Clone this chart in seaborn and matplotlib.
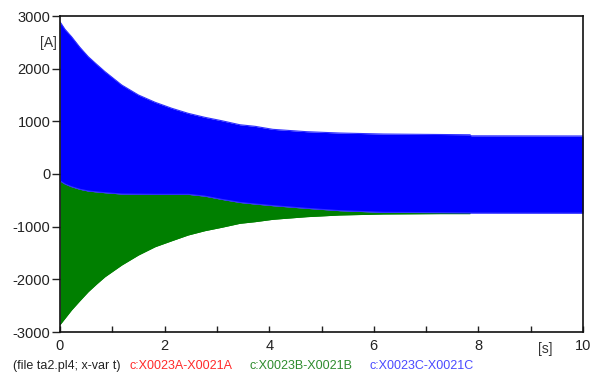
import matplotlib
matplotlib.use("Agg")
import matplotlib.pyplot as plt
import seaborn as sns
import pandas as pd

# Envelope (peak) values of the phase currents, in A, against time in s
blue_t = [0, 0.095, 0.22, 0.38, 0.54, 0.70, 0.86, 1.18, 1.50, 1.82, 2.14, 2.45,
          2.77, 3.09, 3.44, 3.73, 4.07, 4.72, 5.35, 6.18, 7.27, 7.84, 7.86, 10]
blue_hi = [2890, 2747, 2607, 2405, 2227, 2083, 1943, 1690, 1500, 1361, 1247, 1152,
           1076, 1012, 935, 905, 848, 803, 778, 759, 750, 745, 725, 722]
blue_lo = [-130, -190, -241, -290, -323, -340, -355, -380, -383, -386, -386, -386,
           -420, -481, -540, -570, -601, -652, -696, -728, -734, -738, -740, -742]

green_t = [0, 0.095, 0.22, 0.38, 0.54, 0.70, 0.86, 1.18, 1.50, 1.82, 2.14, 2.45,
           2.77, 3.09, 3.44, 3.73, 4.07, 4.72, 5.35, 6.18, 7.27, 7.84]
green_hi = [-130, -190, -241, -290, -323, -340, -355, -380, -383, -386, -386, -386,
            -420, -481, -540, -570, -601, -652, -696, -728, -734, -738]
green_lo = [-2860, -2740, -2582, -2405, -2234, -2088, -1950, -1728, -1538, -1380,
            -1266, -1158, -1076, -1012, -936, -905, -860, -810, -778, -759, -752, -752]

x_ticks = [0, 2, 4, 6, 8, 10]
y_ticks = [-3000, -2000, -1000, 0, 1000, 2000, 3000]
legend_labels = ["c:X0023A-X0021A", "c:X0023B-X0021B", "c:X0023C-X0021C"]
legend_colors = ["#ff2a2a", "#2e8b2e", "#4a4aff"]

sns.set_style("white")
plt.rcParams["font.family"] = ["Liberation Sans", "DejaVu Sans"]
plt.rcParams["axes.unicode_minus"] = False

fig = plt.figure(figsize=(6.02, 3.78), dpi=100)
ax = fig.add_axes([60 / 602, 1 - 332 / 378, 523 / 602, 316 / 378])

green = pd.DataFrame({"t": green_t, "hi": green_hi, "lo": green_lo})
blue = pd.DataFrame({"t": blue_t, "hi": blue_hi, "lo": blue_lo})

# Phase B (green) underneath, phase C (blue) on top
ax.fill_between(green["t"], green["lo"], green["hi"], color="#007f00", lw=0, zorder=1)
sns.lineplot(data=green, x="t", y="lo", color="#008000", lw=0.8, ax=ax, zorder=1)
ax.fill_between(blue["t"], blue["lo"], blue["hi"], color="#0000ff", lw=0, zorder=2)
sns.lineplot(data=blue, x="t", y="hi", color="#3030ff", lw=0.8, ax=ax, zorder=2)
sns.lineplot(data=blue, x="t", y="lo", color="#3030ff", lw=0.8, ax=ax, zorder=2)

ax.set_xlim(0, 10)
ax.set_ylim(-3000, 3000)
ax.set_xticks(x_ticks)
ax.set_xticks([1, 3, 5, 7, 9], minor=True)
ax.set_yticks(y_ticks)
ax.set_xlabel("")
ax.set_ylabel("")

ax.tick_params(axis="x", which="both", direction="in", length=4, width=1,
               colors="#222222", labelsize=10.5, pad=5, bottom=True)
ax.tick_params(axis="y", direction="out", length=6, width=1,
               colors="#222222", labelsize=10.5, pad=1, left=True)

for side in ["left", "right", "top", "bottom"]:
    ax.spines[side].set_visible(True)
    ax.spines[side].set_color("#111111")
    ax.spines[side].set_linewidth(1.2)
    ax.spines[side].set_zorder(3)

fig.text(48 / 602, 1 - 43 / 378, "[A]", ha="center", va="center",
         fontsize=10, color="#333333")
fig.text(545 / 602, 1 - 349 / 378, "[s]", ha="center", va="center",
         fontsize=10, color="#333333")

fig.text(13 / 602, 1 - 366 / 378, "(file ta2.pl4; x-var t)", ha="left",
         va="center", fontsize=9, color="#222222")
for xpos, label, col in zip([130, 250, 370], legend_labels, legend_colors):
    fig.text(xpos / 602, 1 - 366 / 378, label, ha="left", va="center",
             fontsize=9, color=col)

fig.savefig("out.png", dpi=100)
